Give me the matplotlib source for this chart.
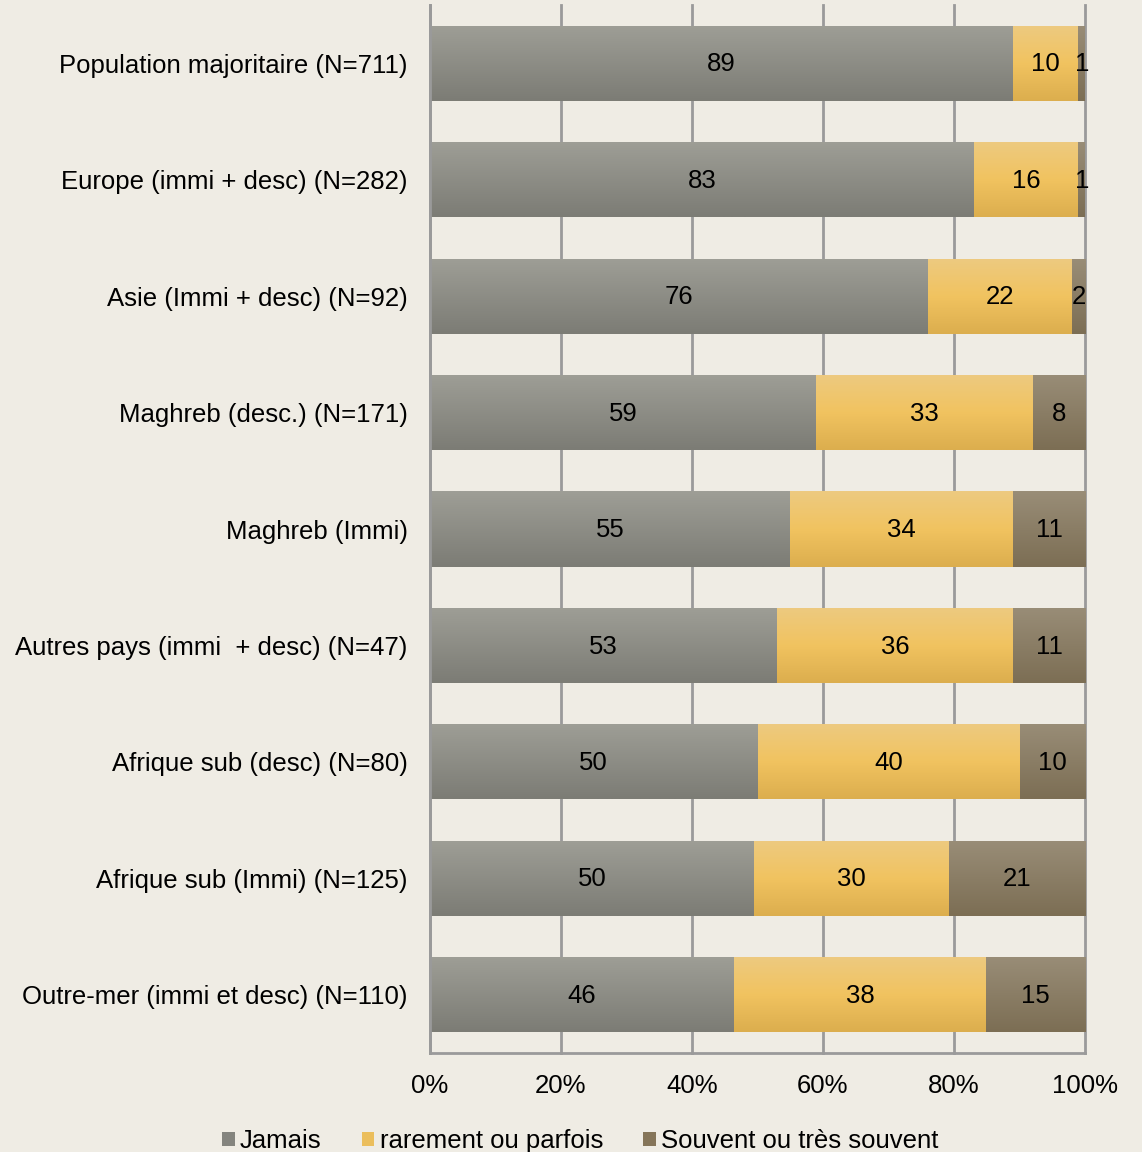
import numpy as np
import matplotlib
matplotlib.use('Agg')
import matplotlib.pyplot as plt
from matplotlib.patches import Patch

plt.rcParams['font.family'] = ['Liberation Sans Narrow', 'Liberation Sans', 'DejaVu Sans']

# données
categories = ['Population majoritaire (N=711)', 'Europe (immi + desc) (N=282)',
              'Asie (Immi + desc) (N=92)', 'Maghreb (desc.) (N=171)', 'Maghreb (Immi)',
              'Autres pays (immi  + desc) (N=47)', 'Afrique sub (desc) (N=80)',
              'Afrique sub (Immi) (N=125)', 'Outre-mer (immi et desc) (N=110)']
jamais = [89, 83, 76, 59, 55, 53, 50, 50, 46]
rarement = [10, 16, 22, 33, 34, 36, 40, 30, 38]
souvent = [1, 1, 2, 8, 11, 11, 10, 21, 15]
series_names = ['Jamais', 'rarement ou parfois', 'Souvent ou très souvent']
xtick_labels = ['0%', '20%', '40%', '60%', '80%', '100%']

bg = '#EFECE4'
# couleurs dégradées (haut, bas)
grad = [((158, 158, 150), (124, 124, 117)),
        ((237, 202, 128), (220, 174, 78)),
        ((153, 141, 119), (124, 110, 84))]
leg_colors = ['#84847E', '#EBBE5C', '#857559']

fig = plt.figure(figsize=(11.42, 11.52), dpi=100, facecolor=bg)
ax = fig.add_axes([430 / 1142, 1 - 1053 / 1152, 655 / 1142, 1048 / 1152])
ax.set_facecolor(bg)

data = np.array([jamais, rarement, souvent], dtype=float)
totals = data.sum(axis=0)
pct = data / totals * 100

h = 0.645
y = np.arange(len(categories))
left = np.zeros(len(categories))
for s in range(3):
    c_top = np.array(grad[s][0]) / 255
    c_bot = np.array(grad[s][1]) / 255
    t = np.linspace(0, 1, 64)
    # dégradé avec un milieu plus vif pour le jaune
    g = c_top[None, :] * (1 - t[:, None]) + c_bot[None, :] * t[:, None]
    if s == 1:
        mid = np.array((241, 195, 96)) / 255
        g = np.where(t[:, None] < 0.5,
                     c_top * (1 - 2 * t[:, None]) + mid * 2 * t[:, None],
                     mid * (2 - 2 * t[:, None]) + c_bot * (2 * t[:, None] - 1))
    img = g[:, None, :]
    bars = ax.barh(y, pct[s], left=left, height=h, color='none', edgecolor='none', zorder=2)
    for i, b in enumerate(bars):
        x0, x1 = left[i], left[i] + pct[s][i]
        im = ax.imshow(img, extent=(x0, x1, y[i] + h / 2, y[i] - h / 2),
                       aspect='auto', interpolation='bilinear', zorder=2)
        im.set_clip_path(b)
        ax.text((x0 + x1) / 2, y[i] + 0.01, f'{int(data[s][i])}', ha='center', va='center',
                fontsize=18.5, color='black', zorder=3,
                family=['Liberation Sans', 'DejaVu Sans'])
    left = left + pct[s]

ax.set_xlim(0, 100)
ax.set_ylim(len(categories) - 0.5, -0.5)
ax.set_xticks([0, 20, 40, 60, 80, 100])
ax.set_xticklabels(xtick_labels, fontsize=18.5)
ax.set_yticks(y)
ax.set_yticklabels(categories, fontsize=18.5)
ax.tick_params(axis='x', length=0, pad=15)
ax.tick_params(axis='y', length=0, pad=16)
ax.xaxis.grid(True, color='#9A9A9A', linewidth=2, zorder=0)
for gl in ax.get_xgridlines():
    gl.set_clip_on(False)
ax.set_axisbelow(True)
for sp in ['top', 'right']:
    ax.spines[sp].set_visible(False)
for sp in ['left', 'bottom']:
    ax.spines[sp].set_color('#9A9A9A')
    ax.spines[sp].set_linewidth(2)

handles = [Patch(facecolor=c, edgecolor='none') for c in leg_colors]
fig.legend(handles, series_names, loc='lower center', bbox_to_anchor=(0.508, -0.021),
           ncol=3, frameon=False, fontsize=18.5, handlelength=0.5, handleheight=0.5,
           handletextpad=0.2, columnspacing=1.55)

fig.savefig('out.png', dpi=100, facecolor=bg)
